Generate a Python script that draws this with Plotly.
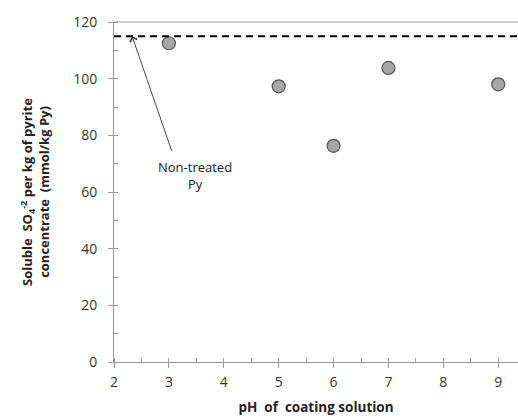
import plotly.graph_objects as go

ph = [3, 5, 6, 7, 9]
sulfate = [112.5, 97.3, 76.3, 103.8, 98.0]
untreated_level = 115
x_ticks = [2, 3, 4, 5, 6, 7, 8, 9]
y_ticks = [0, 20, 40, 60, 80, 100, 120]

font = "'Open Sans', sans-serif"

fig = go.Figure()
fig.add_trace(go.Scatter(
    x=ph, y=sulfate, mode="markers",
    marker=dict(size=13, color="#a6a6a6", line=dict(color="#555555", width=1.2)),
    showlegend=False, cliponaxis=False,
))

fig.add_shape(type="line", xref="paper", x0=0, x1=1, yref="y",
              y0=untreated_level, y1=untreated_level,
              line=dict(color="black", width=2, dash="7px,5px"))

fig.add_annotation(
    x=2.33, y=untreated_level, ax=3.06, ay=74, xref="x", yref="y", axref="x", ayref="y",
    text="", showarrow=True, arrowhead=4, arrowsize=1.6, arrowwidth=0.9, arrowcolor="#333333",
)
fig.add_annotation(
    x=3.47, y=66, xref="x", yref="y", text="Non-treated<br>Py", showarrow=False,
    font=dict(family=font, size=13, color="#222222"), align="center",
)

fig.update_layout(
    width=518, height=419,
    margin=dict(l=114, r=0, t=22, b=57),
    paper_bgcolor="white", plot_bgcolor="white",
    font=dict(family=font, size=14, color="#333333"),
    xaxis=dict(
        range=[2, 9.36], tickvals=x_ticks, showgrid=False, zeroline=False,
        showline=True, linecolor="#999999", linewidth=1,
        ticks="outside", ticklen=5, tickcolor="#999999", ticklabelstandoff=2,
        minor=dict(dtick=0.5, ticks="inside", ticklen=4, tickcolor="#999999"),
        title=dict(text="<b>pH  of  coating solution</b>", font=dict(size=13.5, color="#222222"), standoff=12),
        tickfont=dict(size=14, color="#333333"),
    ),
    yaxis=dict(
        range=[0, 120], tickvals=y_ticks, showgrid=False, zeroline=False,
        showline=True, linecolor="#999999", linewidth=1, mirror=False,
        ticks="outside", ticklen=5, tickcolor="#999999", ticklabelstandoff=8,
        minor=dict(dtick=10, ticks="inside", ticklen=4, tickcolor="#999999"),
        title=dict(text="<b>Soluble  SO<sub>4</sub><sup>-2</sup> per kg of pyrite<br>concentrate  (mmol/kg Py)</b>",
                   font=dict(size=13, color="#222222"), standoff=20),
        tickfont=dict(size=14, color="#333333"),
    ),
)
fig.add_shape(type="line", xref="paper", yref="paper", x0=0, x1=1, y0=1, y1=1,
              line=dict(color="#999999", width=1))

fig.write_html("out.html")
